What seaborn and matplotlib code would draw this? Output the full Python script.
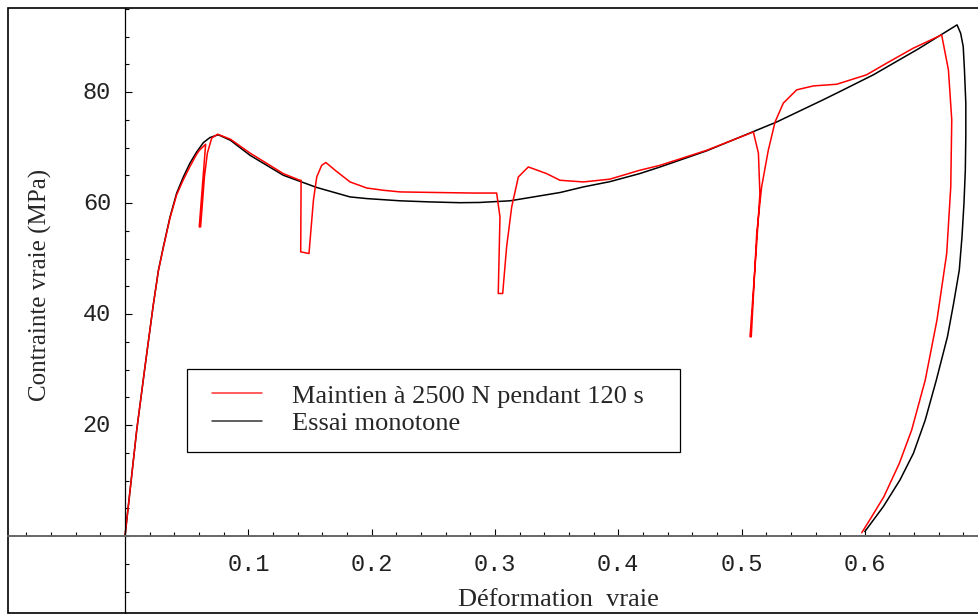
import numpy as np
import pandas as pd
import matplotlib
matplotlib.use("Agg")
import matplotlib.pyplot as plt
from matplotlib.patches import Rectangle
from matplotlib.ticker import MultipleLocator
from matplotlib.lines import Line2D
import seaborn as sns

# Essai avec maintien (déformation vraie, contrainte vraie en MPa)
maintien_def = [0, 0.0095, 0.0162, 0.0229, 0.0271, 0.0311, 0.0365, 0.0419, 0.0473,
                0.0527, 0.0581, 0.0603, 0.0654,
                0.0602, 0.0613, 0.0644, 0.0668, 0.0703, 0.0751, 0.0855, 0.1014,
                0.1284, 0.1418, 0.1428, 0.1425, 0.1492, 0.1528, 0.1555, 0.1595,
                0.1629, 0.1710, 0.1825, 0.1961, 0.2095, 0.2231, 0.2514, 0.2816,
                0.3014, 0.3041, 0.3027, 0.3063, 0.3095, 0.3136, 0.3190, 0.3271,
                0.3419, 0.3528, 0.3717, 0.3932, 0.4174, 0.4340, 0.4717, 0.5096,
                0.5137, 0.5149, 0.5123, 0.5069, 0.5079, 0.5123, 0.5163, 0.5217,
                0.5272, 0.5339, 0.5448, 0.5583, 0.5772, 0.6014, 0.6177, 0.6393,
                0.6623, 0.6678, 0.6705, 0.6697, 0.6664, 0.6585, 0.6490, 0.6380,
                0.6280, 0.6155, 0.6040, 0.5975]
maintien_sig = [0, 19.1, 30.5, 41.6, 47.8, 52.0, 57.3, 61.5, 64.2,
                66.6, 68.8, 69.5, 70.6,
                55.7, 55.7, 64.7, 69.0, 71.7, 72.4, 71.5, 69.0,
                65.3, 64.1, 64.1, 51.2, 50.9, 60.5, 64.7, 66.8,
                67.3, 65.8, 63.8, 62.7, 62.3, 62.0, 61.9, 61.8,
                61.8, 57.5, 43.7, 43.7, 52.1, 59.3, 64.7, 66.5,
                65.3, 64.1, 63.8, 64.3, 65.9, 66.8, 69.5, 72.8,
                69.0, 61.7, 52.7, 35.9, 35.9, 54.5, 62.9, 69.5,
                74.6, 78.0, 80.4, 81.1, 81.4, 83.1, 85.2, 87.9,
                90.3, 84.0, 75.0, 62.9, 50.9, 38.9, 28.1, 19.1,
                13.1, 7.1, 2.9, 0.6]

# Essai monotone
monotone_def = [0, 0.0095, 0.0162, 0.0229, 0.0271, 0.0311, 0.0365, 0.0419, 0.0473,
                0.0527, 0.0581, 0.0636, 0.0689, 0.0757, 0.0855, 0.1014, 0.1284,
                0.1555, 0.1825, 0.1961, 0.2231, 0.2474, 0.2715, 0.2876, 0.3123,
                0.3530, 0.3717, 0.3932, 0.4174, 0.4340, 0.4717, 0.5099, 0.5285,
                0.5662, 0.5799, 0.6069, 0.6436, 0.6748, 0.6777, 0.6798, 0.6808,
                0.6819, 0.6819, 0.6815, 0.6804, 0.6788, 0.6766, 0.6720, 0.6670,
                0.6580, 0.6490, 0.6394, 0.6285, 0.6150, 0.6000]
monotone_sig = [0, 19.1, 30.5, 41.6, 47.9, 52.1, 57.5, 61.8, 64.7,
                67.2, 69.2, 70.9, 71.8, 72.3, 71.3, 68.6, 65.0,
                62.8, 61.1, 60.8, 60.4, 60.2, 60.06, 60.1, 60.4,
                61.9, 62.9, 63.85, 65.3, 66.5, 69.4, 72.9, 74.6,
                78.6, 80.1, 83.1, 87.8, 92.1, 90.6, 88.2, 84.0,
                78.0, 72.0, 65.9, 59.9, 53.9, 47.9, 41.9, 35.9,
                28.1, 20.9, 14.9, 10.1, 5.3, 0.8]

label_maintien = "Maintien à 2500 N pendant 120 s"
label_monotone = "Essai monotone"

df_m = pd.DataFrame({"def": maintien_def, "sig": maintien_sig})
df_o = pd.DataFrame({"def": monotone_def, "sig": monotone_sig})

sns.set_style("white")
plt.rcParams["font.family"] = ["Liberation Serif", "DejaVu Serif"]

W, H = 979, 614
fig = plt.figure(figsize=(W / 100, H / 100), dpi=100)
ax = fig.add_axes([8 / W, 1 / H, 971 / W, 605 / H])

sns.lineplot(data=df_o, x="def", y="sig", sort=False, estimator=None,
             color="black", lw=1.1, ax=ax)
sns.lineplot(data=df_m, x="def", y="sig", sort=False, estimator=None,
             color="#ff0000", lw=1.1, ax=ax)

ax.set_xlim(-0.0949, 0.6926)
ax.set_ylim(-13.87, 95.14)

# axes qui se croisent à l'origine
ax.spines["left"].set_position(("data", 0))
ax.spines["bottom"].set_position(("data", 0))
ax.spines["top"].set_visible(False)
ax.spines["right"].set_visible(False)
ax.spines["left"].set_color("black")
ax.spines["left"].set_linewidth(0.9)
ax.spines["bottom"].set_color("#666666")
ax.spines["bottom"].set_linewidth(1.4)

ax.set_xticks([0.1, 0.2, 0.3, 0.4, 0.5, 0.6])
ax.set_xticklabels(["0.1", "0.2", "0.3", "0.4", "0.5", "0.6"])
ax.set_yticks([20, 40, 60, 80])
ax.set_yticklabels(["20", "40", "60", "80"])
ax.xaxis.set_minor_locator(MultipleLocator(0.02))
ax.yaxis.set_minor_locator(MultipleLocator(5))
ax.tick_params(which="both", direction="in", color="black", width=0.8,
               bottom=True, left=True)
ax.tick_params(which="major", length=5)
ax.tick_params(which="minor", length=3)
ax.tick_params(axis="x", which="major", pad=12)
ax.tick_params(axis="y", which="major", pad=10)
for lab in ax.get_xticklabels() + ax.get_yticklabels():
    lab.set_family("Liberation Mono")
    lab.set_fontsize(17)
    lab.set_color("#222222")
for lab in ax.get_yticklabels():
    lab.set_verticalalignment("center")
ax.set_xlabel("")
ax.set_ylabel("")

# cadre autour du graphique
ax.add_patch(Rectangle((0, 0), 1, 1, transform=ax.transAxes, fill=False,
                       ec="black", lw=1.2, clip_on=False))

fig.text(558 / W, 1 - 600 / H, "Déformation  vraie", ha="center", va="center",
         fontsize=19)
fig.text(40 / W, 1 - 285 / H, "Contrainte vraie (MPa)", ha="center", va="center",
         rotation=90, fontsize=18)

# légende
fig.patches.append(Rectangle((187 / W, 1 - 452 / H), 493 / W, 83 / H,
                             transform=fig.transFigure, fill=False, ec="black",
                             lw=0.9))
handles = [Line2D([], [], color="#ff3030", lw=1.1),
           Line2D([], [], color="#333333", lw=1.1)]
fig.legend(handles, [label_maintien, label_monotone], loc="center left",
           bbox_to_anchor=(212 / W, 1 - 409.5 / H), frameon=False, fontsize=19,
           handlelength=1.9, handletextpad=1.15, labelspacing=0.14,
           borderpad=0, borderaxespad=0)

fig.savefig("out.png", dpi=100)
